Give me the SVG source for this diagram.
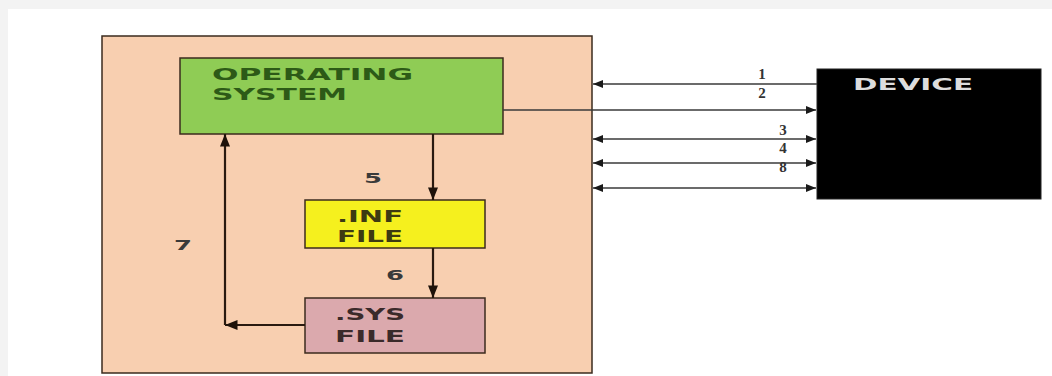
<svg xmlns="http://www.w3.org/2000/svg" width="1052" height="376" viewBox="0 0 1052 376">
<style>
.box{stroke:#3b2b1e;stroke-width:1.5}
.lbl{font-family:"DejaVu Sans",Verdana,sans-serif;font-size:16px;font-weight:bold}
.num{font-family:"DejaVu Sans",sans-serif;font-size:14px;fill:#3a3a3a;font-weight:bold}
.snum{font-family:"Liberation Serif",serif;font-size:15px;fill:#333;font-weight:bold}
.thin{stroke:#3a3a3a;stroke-width:1.3;fill:none}
.thick{stroke:#2a1a10;stroke-width:2.2;fill:none}
</style>
<defs>
<marker id="ah" viewBox="0 0 10 8" refX="10" refY="4" markerWidth="12" markerHeight="8" markerUnits="userSpaceOnUse" orient="auto-start-reverse">
<path d="M0,0 L10,4 L0,8 Z" fill="#1a1a1a"/>
</marker>
<marker id="ahk" viewBox="0 0 10 8" refX="10" refY="4" markerWidth="13" markerHeight="10" markerUnits="userSpaceOnUse" orient="auto-start-reverse">
<path d="M0,0 L10,4 L0,8 Z" fill="#1e120a"/>
</marker>
</defs>
<rect x="0" y="0" width="1052" height="376" fill="#f3f3f3"/>
<rect x="8" y="9" width="1044" height="367" fill="#ffffff"/>
<g id="host">
<rect class="box" x="102" y="36" width="490" height="337" fill="#f8cfb0"/>
</g>
<g id="os">
<rect class="box" x="180" y="58" width="323" height="76" fill="#8fcc55"/>
<text class="lbl" fill="#2d5a17" x="212" y="80" textLength="201" lengthAdjust="spacingAndGlyphs">OPERATING</text>
<text class="lbl" fill="#2d5a17" x="212" y="100" textLength="135" lengthAdjust="spacingAndGlyphs">SYSTEM</text>
</g>
<g id="inf">
<rect class="box" x="305" y="200" width="180" height="48" fill="#f5f01e"/>
<text class="lbl" fill="#3d3a12" x="337" y="222" textLength="66" lengthAdjust="spacingAndGlyphs">.INF</text>
<text class="lbl" fill="#3d3a12" x="337" y="242" textLength="66" lengthAdjust="spacingAndGlyphs">FILE</text>
</g>
<g id="sys">
<rect class="box" x="305" y="298" width="180" height="55" fill="#dba9ad"/>
<text class="lbl" fill="#3a2a2a" x="335" y="320" textLength="70" lengthAdjust="spacingAndGlyphs">.SYS</text>
<text class="lbl" fill="#3a2a2a" x="335" y="342" textLength="70" lengthAdjust="spacingAndGlyphs">FILE</text>
</g>
<g id="device">
<rect x="817" y="69" width="224" height="130" fill="#000000" stroke="#222" stroke-width="1"/>
<text class="lbl" fill="#dddddd" x="853" y="90" textLength="120" lengthAdjust="spacingAndGlyphs">DEVICE</text>
</g>
<g id="connectors">
<line class="thick" x1="433" y1="134" x2="433" y2="200" marker-end="url(#ahk)"/>
<line class="thick" x1="433" y1="248" x2="433" y2="298" marker-end="url(#ahk)"/>
<line class="thick" x1="305" y1="325" x2="225" y2="325" marker-end="url(#ahk)" stroke="#4a3020"/>
<line class="thick" x1="225" y1="325" x2="225" y2="134" marker-end="url(#ahk)"/>
<line class="thin" x1="817" y1="84" x2="593" y2="84" marker-end="url(#ah)"/>
<line class="thin" x1="503" y1="110" x2="816" y2="110" marker-end="url(#ah)"/>
<line class="thin" x1="593" y1="139" x2="816" y2="139" marker-start="url(#ah)" marker-end="url(#ah)"/>
<line class="thin" x1="593" y1="163" x2="816" y2="163" marker-start="url(#ah)" marker-end="url(#ah)"/>
<line class="thin" x1="593" y1="188" x2="816" y2="188" marker-start="url(#ah)" marker-end="url(#ah)"/>
<text class="snum" x="762" y="79" text-anchor="middle">1</text>
<text class="snum" x="762" y="98" text-anchor="middle">2</text>
<text class="snum" x="783" y="135" text-anchor="middle">3</text>
<text class="snum" x="783" y="153" text-anchor="middle">4</text>
<text class="snum" x="783" y="172" text-anchor="middle">8</text>
<text class="num" x="373" y="183" text-anchor="middle" textLength="18" lengthAdjust="spacingAndGlyphs">5</text>
<text class="num" x="395" y="280" text-anchor="middle" textLength="18" lengthAdjust="spacingAndGlyphs">6</text>
<text class="num" x="183" y="250" text-anchor="middle" textLength="18" lengthAdjust="spacingAndGlyphs">7</text>
</g>
</svg>
